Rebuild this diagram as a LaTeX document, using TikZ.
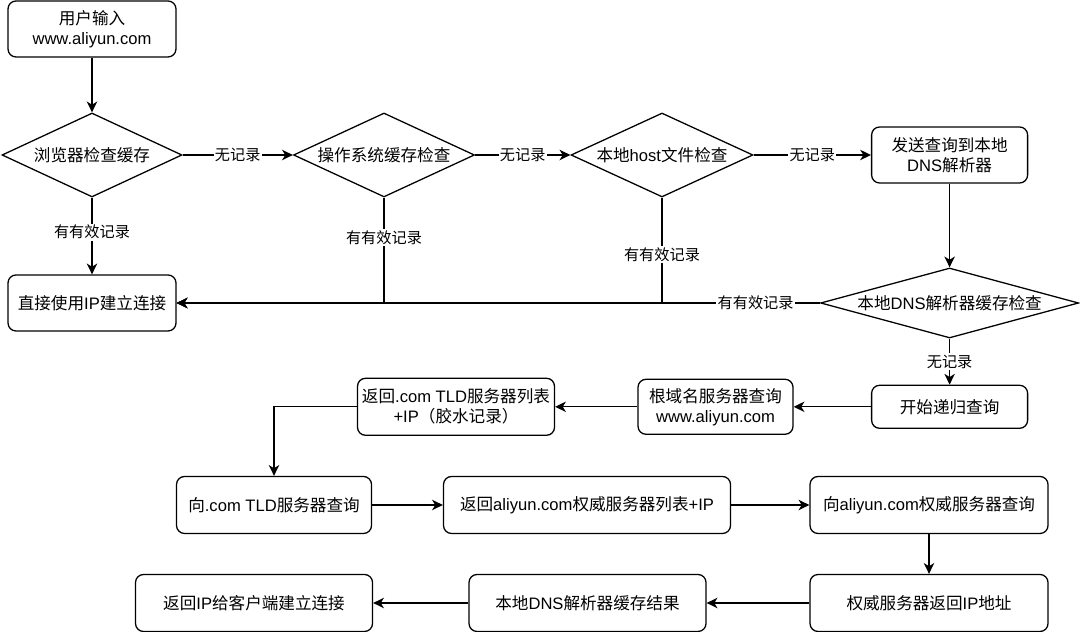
\documentclass[tikz,border=0pt]{standalone}
\usepackage{fontspec}
\setmainfont{Noto Sans CJK SC}
\newfontfamily\lat{Liberation Sans}
\usetikzlibrary{shapes.geometric,arrows.meta}
\begin{document}
\begin{tikzpicture}[
    procbox/.style={draw, line width=0.032cm, rounded corners=0.2cm, align=center,
                    inner sep=0pt, font=\fontsize{11.8pt}{14.2pt}\selectfont},
    decision/.style={draw, line width=0.032cm, shape=diamond, inner sep=0pt,
                     font=\fontsize{11.8pt}{14.2pt}\selectfont},
    flow/.style={line width=0.032cm, -{Stealth[length=0.27cm, width=0.26cm, inset=0.08cm]}},
    lbl/.style={fill=white, inner sep=1pt, font=\fontsize{10.8pt}{13pt}\selectfont}]
                    \useasboundingbox (0,0) rectangle (27.000000,15.800000);

                    % Drawing box start
                    \node (start) at (2.300000,15.075000) [procbox, minimum width=4.200000cm, minimum height=1.400000cm] {用户输入\\{\lat www.aliyun.com}};

                    % Drawing diamond browser
                    \node (browser) at (2.300000,11.925000) [decision, minimum width=4.500000cm, minimum height=2.100000cm] {\makebox[0pt]{浏览器检查缓存}};

                    % Drawing diamond oscache
                    \node (oscache) at (9.600000,11.925000) [decision, minimum width=4.525000cm, minimum height=2.100000cm] {\makebox[0pt]{操作系统缓存检查}};

                    % Drawing diamond hostfile
                    \node (hostfile) at (16.550000,11.925000) [decision, minimum width=4.550000cm, minimum height=2.100000cm] {\makebox[0pt]{本地{\lat host}文件检查}};

                    % Drawing box send
                    \node (send) at (23.740000,11.925000) [procbox, minimum width=3.900000cm, minimum height=1.400000cm] {发送查询到本地\\{\lat DNS}解析器};

                    % Drawing box direct
                    \node (direct) at (2.300000,8.225000) [procbox, minimum width=4.200000cm, minimum height=1.400000cm] {直接使用{\lat IP}建立连接};

                    % Drawing diamond dnscache
                    \node (dnscache) at (23.740000,8.225000) [decision, minimum width=6.450000cm, minimum height=1.750000cm] {\makebox[0pt]{本地{\lat DNS}解析器缓存检查}};

                    % Drawing box recursive
                    \node (recursive) at (23.740000,5.630000) [procbox, minimum width=3.900000cm, minimum height=1.075000cm] {开始递归查询};

                    % Drawing box root
                    \node (root) at (17.887500,5.630000) [procbox, minimum width=3.875000cm, minimum height=1.375000cm] {根域名服务器查询\\{\lat www.aliyun.com}};

                    % Drawing box tldlist
                    \node (tldlist) at (11.400000,5.630000) [procbox, minimum width=4.925000cm, minimum height=1.425000cm] {返回{\lat .com TLD}服务器列表\\{\lat +IP}（胶水记录）};

                    % Drawing box tldquery
                    \node (tldquery) at (6.850000,3.175000) [procbox, minimum width=4.875000cm, minimum height=1.425000cm] {向{\lat .com TLD}服务器查询};

                    % Drawing box authlist
                    \node (authlist) at (14.675000,3.175000) [procbox, minimum width=7.175000cm, minimum height=1.425000cm] {返回{\lat aliyun.com}权威服务器列表{\lat +IP}};

                    % Drawing box authquery
                    \node (authquery) at (23.225000,3.175000) [procbox, minimum width=5.950000cm, minimum height=1.425000cm] {向{\lat aliyun.com}权威服务器查询};

                    % Drawing box authreturn
                    \node (authreturn) at (23.225000,0.725000) [procbox, minimum width=5.950000cm, minimum height=1.425000cm] {权威服务器返回{\lat IP}地址};

                    % Drawing box resolvercache
                    \node (resolvercache) at (14.687500,0.725000) [procbox, minimum width=5.925000cm, minimum height=1.425000cm] {本地{\lat DNS}解析器缓存结果};

                    % Drawing box final
                    \node (final) at (6.350000,0.725000) [procbox, minimum width=5.925000cm, minimum height=1.425000cm] {返回{\lat IP}给客户端建立连接};

                    % Drawing arrows of the cache checks
                    \draw [flow] (start) -- (browser);%
                    \draw [flow] (browser) -- node [lbl] {无记录} (oscache);%
                    \draw [flow] (oscache) -- node [lbl] {无记录} (hostfile);%
                    \draw [flow] (hostfile) -- node [lbl] {无记录} (send);%
                    \draw [flow] (send) -- (dnscache);%

                    % Drawing arrows with valid record
                    \draw [flow] (browser) -- node [lbl, pos=0.45] {有有效记录} (direct);%
                    \draw [flow] (oscache.south) |- node [lbl, pos=0.19] {有有效记录} (direct.east);%
                    \draw [flow] (hostfile.south) |- node [lbl, pos=0.27] {有有效记录} (direct.east);%
                    \draw [flow] (dnscache.west) -- node [lbl, pos=0.1] {有有效记录} (direct.east);%

                    % Drawing arrows of the recursive query
                    \draw [flow] (dnscache) -- node [lbl] {无记录} (recursive);%
                    \draw [flow] (recursive) -- (root);%
                    \draw [flow] (root) -- (tldlist);%
                    \draw [flow] (tldlist.west) -| (tldquery.north);%
                    \draw [flow] (tldquery) -- (authlist);%
                    \draw [flow] (authlist) -- (authquery);%
                    \draw [flow] (authquery) -- (authreturn);%
                    \draw [flow] (authreturn) -- (resolvercache);%
                    \draw [flow] (resolvercache) -- (final);%
\end{tikzpicture}
\end{document}
